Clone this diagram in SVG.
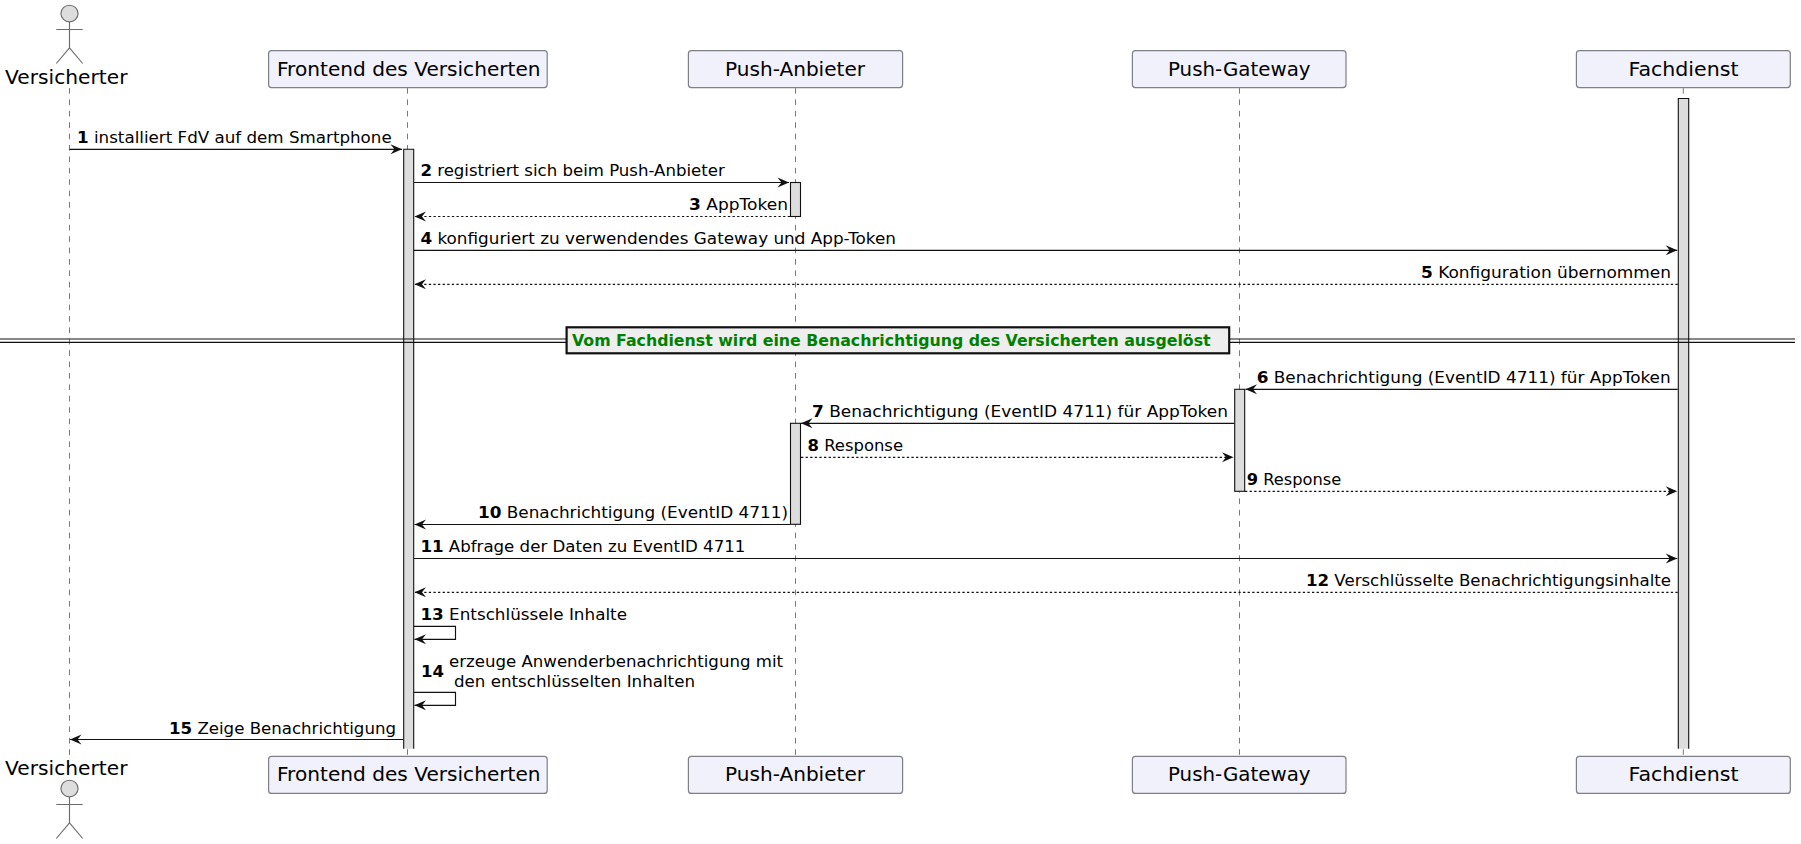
<svg xmlns="http://www.w3.org/2000/svg" width="1801" height="844" viewBox="0 0 1801 844">
<style>
text{font-family:"DejaVu Sans",sans-serif;fill:#000}
.p{font-size:19.4px}
.m{font-size:15.6px}
.n{font-weight:bold}
.sep{font-size:15.6px;font-weight:bold;fill:#008000}
.box{fill:#F1F1FC;stroke:#7f7f88;stroke-width:1.2}
.life{stroke:#7a7a7a;stroke-width:1;stroke-dasharray:5.7,5.7;fill:none}
.af{fill:#DDDDDD}
.act{fill:none;stroke:#111;stroke-width:1.1}
.s{stroke:#111;stroke-width:1.15;fill:none;marker-end:url(#h)}
.d{stroke:#111;stroke-width:1.15;fill:none;stroke-dasharray:2.3,2.3;marker-end:url(#h)}
.fig{fill:none;stroke:#6b6b6b;stroke-width:1.15}
.head{fill:#DDDDDD;stroke:#6b6b6b;stroke-width:1.15}
</style>
<defs>
<marker id="h" markerUnits="userSpaceOnUse" markerWidth="14" markerHeight="12" refX="12" refY="6" orient="auto"><path d="M0.5,1 L12,6 L0.5,11 L4.5,6 Z" fill="#111"/></marker>
</defs>
<g id="lifelines">
<line class="life" x1="69.5" y1="88" x2="69.5" y2="755"/>
<line class="life" x1="407.5" y1="88" x2="407.5" y2="755"/>
<line class="life" x1="795.5" y1="88" x2="795.5" y2="755"/>
<line class="life" x1="1239.5" y1="88" x2="1239.5" y2="755"/>
<line class="life" x1="1683.3" y1="88" x2="1683.3" y2="755"/>
</g>
<g id="activations">
<rect class="af" x="403.7" y="149.3" width="10" height="599.4"/>
<path class="act" d="M403.7 748.7V149.3H413.7V748.7"/>
<rect class="af act" style="fill:#DDDDDD" x="790.5" y="182.5" width="10" height="34"/>
<rect class="af act" style="fill:#DDDDDD" x="790.5" y="423.3" width="10" height="101"/>
<rect class="af act" style="fill:#DDDDDD" x="1234.7" y="389.3" width="10" height="102"/>
<rect class="af" x="1678.3" y="98.5" width="10.4" height="650.2"/>
<path class="act" d="M1678.3 748.7V98.5H1688.7V748.7"/>
</g>
<g id="actor-top">
<ellipse class="head" cx="69.5" cy="13.5" rx="8.6" ry="8.3"/>
<path class="fig" d="M69.5 22V48M56.3 29.5H82.7M56.3 63.5L69.5 48L82.7 63.5"/>
<text class="p" x="5" y="84" textLength="122.5" lengthAdjust="spacingAndGlyphs">Versicherter</text>
</g>
<g id="actor-bottom">
<text class="p" x="5" y="775" textLength="122.5" lengthAdjust="spacingAndGlyphs">Versicherter</text>
<ellipse class="head" cx="69.5" cy="788.5" rx="8.6" ry="8.3"/>
<path class="fig" d="M69.5 797V823M56.3 804.5H82.7M56.3 838.5L69.5 823L82.7 838.5"/>
</g>
<g id="frontend-top"><rect class="box" x="268.6" y="50.6" width="278.6" height="37" rx="3"/><text class="p" x="277" y="75.5" textLength="263.6" lengthAdjust="spacingAndGlyphs">Frontend des Versicherten</text></g>
<g id="anbieter-top"><rect class="box" x="688.4" y="50.6" width="214.2" height="37" rx="3"/><text class="p" x="725" y="75.5" textLength="140" lengthAdjust="spacingAndGlyphs">Push-Anbieter</text></g>
<g id="gateway-top"><rect class="box" x="1132.4" y="50.6" width="213.6" height="37" rx="3"/><text class="p" x="1168" y="75.5" textLength="142.6" lengthAdjust="spacingAndGlyphs">Push-Gateway</text></g>
<g id="fachdienst-top"><rect class="box" x="1576.4" y="50.6" width="213.9" height="37" rx="3"/><text class="p" x="1628.5" y="75.5" textLength="110" lengthAdjust="spacingAndGlyphs">Fachdienst</text></g>
<g id="frontend-bottom"><rect class="box" x="268.6" y="756.4" width="278.6" height="37" rx="3"/><text class="p" x="277" y="781.3" textLength="263.6" lengthAdjust="spacingAndGlyphs">Frontend des Versicherten</text></g>
<g id="anbieter-bottom"><rect class="box" x="688.4" y="756.4" width="214.2" height="37" rx="3"/><text class="p" x="725" y="781.3" textLength="140" lengthAdjust="spacingAndGlyphs">Push-Anbieter</text></g>
<g id="gateway-bottom"><rect class="box" x="1132.4" y="756.4" width="213.6" height="37" rx="3"/><text class="p" x="1168" y="781.3" textLength="142.6" lengthAdjust="spacingAndGlyphs">Push-Gateway</text></g>
<g id="fachdienst-bottom"><rect class="box" x="1576.4" y="756.4" width="213.9" height="37" rx="3"/><text class="p" x="1628.5" y="781.3" textLength="110" lengthAdjust="spacingAndGlyphs">Fachdienst</text></g>
<g id="separator">
<path d="M0 339H1795M0 342.4H1795" stroke="#111" stroke-width="1.2" fill="none"/>
<rect x="566.6" y="327.3" width="662.6" height="26" fill="#EEEEEE" stroke="#111" stroke-width="2.2"/>
<text class="sep" x="572" y="346" textLength="638.6" lengthAdjust="spacingAndGlyphs">Vom Fachdienst wird eine Benachrichtigung des Versicherten ausgelöst</text>
</g>
<g id="connectors">
<line class="s" x1="69.5" y1="149.3" x2="402" y2="149.3"/>
<line class="s" x1="414" y1="182.5" x2="789" y2="182.5"/>
<line class="d" x1="790" y1="216.5" x2="414.5" y2="216.5"/>
<line class="s" x1="414" y1="250.3" x2="1677.2" y2="250.3"/>
<line class="d" x1="1677.7" y1="284.3" x2="414.5" y2="284.3"/>
<line class="s" x1="1677.7" y1="389.3" x2="1245.5" y2="389.3"/>
<line class="s" x1="1234" y1="423.3" x2="801" y2="423.3"/>
<line class="d" x1="801" y1="457.3" x2="1233.5" y2="457.3"/>
<line class="d" x1="1245" y1="491.3" x2="1677.2" y2="491.3"/>
<line class="s" x1="790" y1="524.5" x2="414.5" y2="524.5"/>
<line class="s" x1="414" y1="558.5" x2="1677.2" y2="558.5"/>
<line class="d" x1="1677.7" y1="592.3" x2="414.5" y2="592.3"/>
<path class="s" d="M414 626.3H455.5V639.3H414.5"/>
<path class="s" d="M414 692.3H455.5V705.3H414.5"/>
<line class="s" x1="403" y1="739.5" x2="70" y2="739.5"/>
</g>
<g id="labels">
<text class="m" x="77" y="143" textLength="314.7" lengthAdjust="spacingAndGlyphs"><tspan class="n">1</tspan> installiert FdV auf dem Smartphone</text>
<text class="m" x="420.4" y="176" textLength="304.4" lengthAdjust="spacingAndGlyphs"><tspan class="n">2</tspan> registriert sich beim Push-Anbieter</text>
<text class="m" x="689" y="210" textLength="99" lengthAdjust="spacingAndGlyphs"><tspan class="n">3</tspan> AppToken</text>
<text class="m" x="420.4" y="244" textLength="475.6" lengthAdjust="spacingAndGlyphs"><tspan class="n">4</tspan> konfiguriert zu verwendendes Gateway und App-Token</text>
<text class="m" x="1421" y="278" textLength="250" lengthAdjust="spacingAndGlyphs"><tspan class="n">5</tspan> Konfiguration übernommen</text>
<text class="m" x="1256.7" y="383" textLength="414" lengthAdjust="spacingAndGlyphs"><tspan class="n">6</tspan> Benachrichtigung (EventID 4711) für AppToken</text>
<text class="m" x="812" y="417" textLength="416" lengthAdjust="spacingAndGlyphs"><tspan class="n">7</tspan> Benachrichtigung (EventID 4711) für AppToken</text>
<text class="m" x="807.5" y="451" textLength="95.5" lengthAdjust="spacingAndGlyphs"><tspan class="n">8</tspan> Response</text>
<text class="m" x="1246.7" y="485" textLength="94.5" lengthAdjust="spacingAndGlyphs"><tspan class="n">9</tspan> Response</text>
<text class="m" x="478" y="518" textLength="310" lengthAdjust="spacingAndGlyphs"><tspan class="n">10</tspan> Benachrichtigung (EventID 4711)</text>
<text class="m" x="420.4" y="552" textLength="325" lengthAdjust="spacingAndGlyphs"><tspan class="n">11</tspan> Abfrage der Daten zu EventID 4711</text>
<text class="m" x="1306" y="586" textLength="365" lengthAdjust="spacingAndGlyphs"><tspan class="n">12</tspan> Verschlüsselte Benachrichtigungsinhalte</text>
<text class="m" x="420.4" y="620" textLength="206.6" lengthAdjust="spacingAndGlyphs"><tspan class="n">13</tspan> Entschlüssele Inhalte</text>
<text class="m n" x="421" y="677" textLength="23" lengthAdjust="spacingAndGlyphs">14</text>
<text class="m" x="449" y="667" textLength="334" lengthAdjust="spacingAndGlyphs">erzeuge Anwenderbenachrichtigung mit</text>
<text class="m" x="454" y="687" textLength="241" lengthAdjust="spacingAndGlyphs">den entschlüsselten Inhalten</text>
<text class="m" x="169" y="734" textLength="227" lengthAdjust="spacingAndGlyphs"><tspan class="n">15</tspan> Zeige Benachrichtigung</text>
</g>
</svg>
